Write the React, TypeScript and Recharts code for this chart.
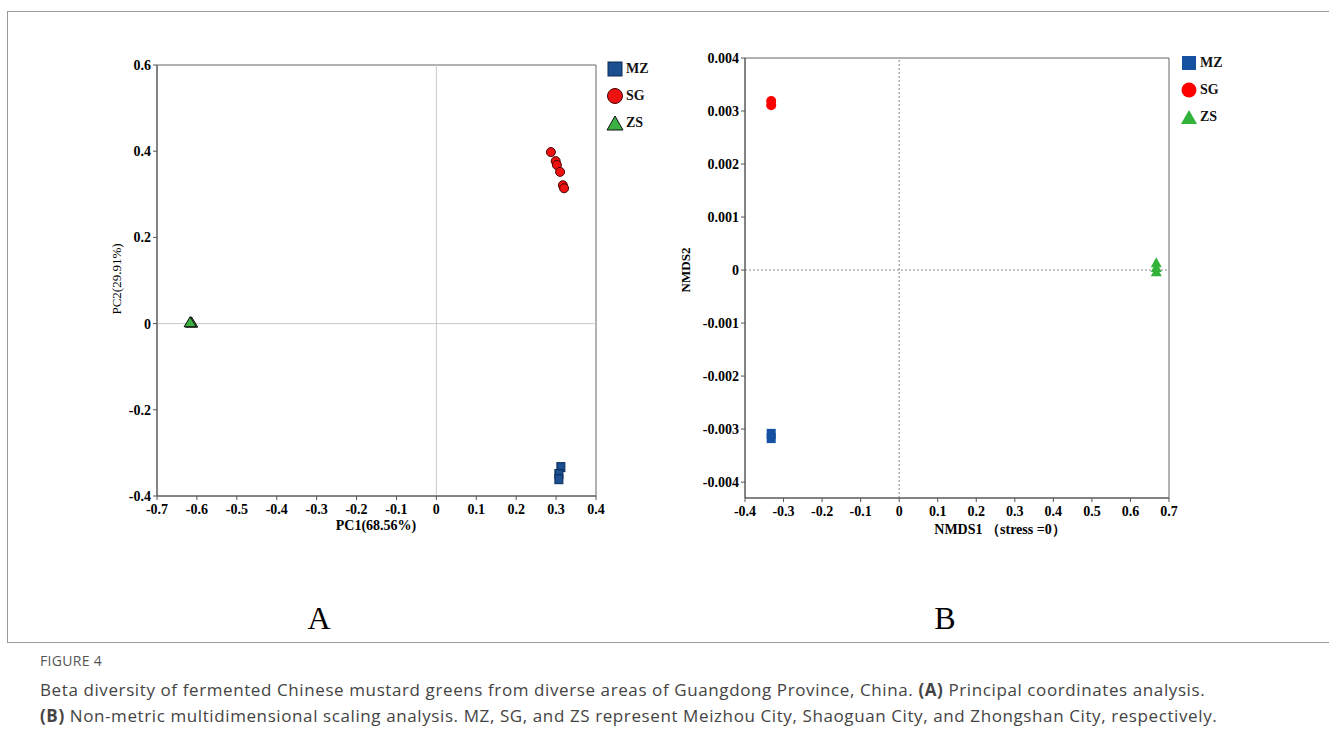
import React from 'react';
import { ScatterChart, Scatter, XAxis, YAxis, ReferenceLine, ReferenceArea } from 'recharts';

// Panel A (PCoA)
const xTicksA = [-0.7, -0.6, -0.5, -0.4, -0.3, -0.2, -0.1, 0, 0.1, 0.2, 0.3, 0.4];
const yTicksA = [-0.4, -0.2, 0, 0.2, 0.4, 0.6];
const mzA = [
  { x: 0.312, y: -0.333 },
  { x: 0.307, y: -0.349 },
  { x: 0.307, y: -0.361 },
];
const sgA = [
  { x: 0.287, y: 0.398 },
  { x: 0.299, y: 0.377 },
  { x: 0.302, y: 0.368 },
  { x: 0.31, y: 0.352 },
  { x: 0.317, y: 0.321 },
  { x: 0.32, y: 0.314 },
];
const zsA = [
  { x: -0.615, y: 0.002 },
  { x: -0.613, y: 0.001 },
  { x: -0.617, y: 0.002 },
];

// Panel B (NMDS)
const xTicksB = [-0.4, -0.3, -0.2, -0.1, 0, 0.1, 0.2, 0.3, 0.4, 0.5, 0.6, 0.7];
const yTicksB = [-0.004, -0.003, -0.002, -0.001, 0, 0.001, 0.002, 0.003, 0.004];
const mzB = [
  { x: -0.332, y: -0.00309 },
  { x: -0.332, y: -0.00317 },
];
const sgB = [
  { x: -0.332, y: 0.00319 },
  { x: -0.332, y: 0.00311 },
];
const zsB = [
  { x: 0.667, y: 0.00013 },
  { x: 0.667, y: 0.00004 },
  { x: 0.667, y: -0.00004 },
];

const groups = ['MZ', 'SG', 'ZS'];

const serif = '"Liberation Serif", "Times New Roman", serif';
const tickStyle = { fontFamily: serif, fontWeight: 700, fontSize: 14, fill: '#000' };
const fmt = (v: number) => (v === 0 ? '0' : String(v));

const SquareA = (p: any) => (
  <rect x={p.cx - 4} y={p.cy - 4.5} width={8} height={9} fill="#1b4f91" stroke="#0b2a55" strokeWidth={1} />
);
const CircleA = (p: any) => <circle cx={p.cx} cy={p.cy} r={4.5} fill="#ee1111" stroke="#4a0000" strokeWidth={1} />;
const TriA = (p: any) => (
  <polygon
    points={`${p.cx - 6},${p.cy + 4} ${p.cx + 6},${p.cy + 4} ${p.cx},${p.cy - 6}`}
    fill="#3cb043"
    stroke="#111"
    strokeWidth={1}
  />
);
const SquareB = (p: any) => <rect x={p.cx - 4.5} y={p.cy - 5} width={9} height={10} fill="#1650a0" />;
const CircleB = (p: any) => <circle cx={p.cx} cy={p.cy} r={5} fill="#ff0000" />;
const TriB = (p: any) => (
  <polygon points={`${p.cx - 5.5},${p.cy + 4} ${p.cx + 5.5},${p.cy + 4} ${p.cx},${p.cy - 6}`} fill="#33b23a" />
);

const LegendBox = ({ left, top, outlined }: { left: number; top: number; outlined: boolean }) => {
  const colors = ['#1b4f91', '#ee1111', '#3cb043'];
  const stroke = outlined ? '#111' : 'none';
  return (
    <div style={{ position: 'absolute', left, top, fontFamily: serif, fontWeight: 700, fontSize: 14, color: '#111' }}>
      {groups.map((g, i) => (
        <div key={g} style={{ display: 'flex', alignItems: 'center', height: 27 }}>
          <svg width={18} height={18} style={{ marginRight: 2 }}>
            {i === 0 && <rect x={2} y={2} width={14} height={14} fill={outlined ? colors[0] : '#1650a0'} stroke={outlined ? '#0b2a55' : 'none'} />}
            {i === 1 && <circle cx={9} cy={9} r={7.5} fill={outlined ? colors[1] : '#ff0000'} stroke={outlined ? '#4a0000' : 'none'} />}
            {i === 2 && <polygon points="1,16 17,16 9,2" fill={outlined ? colors[2] : '#33b23a'} stroke={stroke} />}
          </svg>
          <span>{g}</span>
        </div>
      ))}
    </div>
  );
};

const axisCommon = {
  type: 'number' as const,
  interval: 0 as const,
  tick: tickStyle,
  tickFormatter: fmt,
  tickSize: 4,
  axisLine: { stroke: '#555' },
  tickLine: { stroke: '#555' },
  allowDataOverflow: true,
};

export default function App() {
  return (
    <div style={{ position: 'absolute', left: 0, top: 0, width: 1329, height: 746, background: '#fff', overflow: 'hidden' }}>
      <div style={{ position: 'absolute', left: 7, top: 11, width: 1340, height: 630, border: '1px solid #9a9a9a' }} />

      {/* Panel A */}
      <div style={{ position: 'absolute', left: 0, top: 0 }}>
        <ScatterChart width={700} height={560} margin={{ left: 156, top: 65, right: 104, bottom: 63 }}>
          <XAxis {...axisCommon} dataKey="x" domain={[-0.7, 0.4]} ticks={xTicksA} height={1} tickMargin={4} />
          <YAxis {...axisCommon} dataKey="y" domain={[-0.4, 0.6]} ticks={yTicksA} width={1} tickMargin={2} />
          <ReferenceArea x1={-0.7} x2={0.4} y1={-0.4} y2={0.6} fill="none" stroke="#666" strokeWidth={1} />
          <ReferenceLine x={0} stroke="#c8c8c8" />
          <ReferenceLine y={0} stroke="#c8c8c8" />
          <Scatter name="ZS" data={zsA} shape={TriA} isAnimationActive={false} />
          <Scatter name="SG" data={sgA} shape={CircleA} isAnimationActive={false} />
          <Scatter name="MZ" data={mzA} shape={SquareA} isAnimationActive={false} />
        </ScatterChart>
      </div>
      <LegendBox left={606} top={55} outlined={true} />
      <div style={{ position: 'absolute', left: 276, top: 518, width: 200, textAlign: 'center', fontFamily: serif, fontWeight: 700, fontSize: 14 }}>
        PC1(68.56%)
      </div>
      <div
        style={{
          position: 'absolute',
          left: 67,
          top: 271,
          width: 100,
          textAlign: 'center',
          fontFamily: serif,
          fontSize: 13,
          transform: 'rotate(-90deg)',
        }}
      >
        PC2(29.91%)
      </div>
      <div style={{ position: 'absolute', left: 279, top: 600, width: 80, textAlign: 'center', fontFamily: serif, fontSize: 32 }}>A</div>

      {/* Panel B */}
      <div style={{ position: 'absolute', left: 640, top: 0 }}>
        <ScatterChart width={600} height={560} margin={{ left: 104, top: 58, right: 71, bottom: 61 }}>
          <XAxis {...axisCommon} dataKey="x" domain={[-0.4, 0.7]} ticks={xTicksB} height={1} tickMargin={4} />
          <YAxis {...axisCommon} dataKey="y" domain={[-0.0043, 0.004]} ticks={yTicksB} width={1} tickMargin={2} />
          <ReferenceArea x1={-0.4} x2={0.7} y1={-0.0043} y2={0.004} fill="none" stroke="#666" strokeWidth={1} />
          <ReferenceLine x={0} stroke="#888" strokeDasharray="2 2" />
          <ReferenceLine y={0} stroke="#888" strokeDasharray="2 2" />
          <Scatter name="ZS" data={zsB} shape={TriB} isAnimationActive={false} />
          <Scatter name="SG" data={sgB} shape={CircleB} isAnimationActive={false} />
          <Scatter name="MZ" data={mzB} shape={SquareB} isAnimationActive={false} />
        </ScatterChart>
      </div>
      <LegendBox left={1180} top={49} outlined={false} />
      <div style={{ position: 'absolute', left: 880, top: 521, width: 240, textAlign: 'center', fontFamily: serif, fontWeight: 700, fontSize: 14 }}>
        NMDS1 （stress =0）
      </div>
      <div
        style={{
          position: 'absolute',
          left: 636,
          top: 262,
          width: 100,
          textAlign: 'center',
          fontFamily: serif,
          fontWeight: 700,
          fontSize: 13,
          transform: 'rotate(-90deg)',
        }}
      >
        NMDS2
      </div>
      <div style={{ position: 'absolute', left: 905, top: 600, width: 80, textAlign: 'center', fontFamily: serif, fontSize: 32 }}>B</div>

      {/* Caption */}
      <div
        style={{
          position: 'absolute',
          left: 40,
          top: 651,
          fontFamily: '"Open Sans", "Noto Sans", sans-serif',
          fontSize: 14,
          color: '#555',
          letterSpacing: 0.3,
        }}
      >
        FIGURE 4
      </div>
      <div
        style={{
          position: 'absolute',
          left: 40,
          top: 677,
          width: 1285,
          fontFamily: '"Open Sans", "Noto Sans", sans-serif',
          fontSize: 17,
          letterSpacing: 0.6,
          lineHeight: '26px',
          color: '#444',
          whiteSpace: 'nowrap',
        }}
      >
        <div>
          Beta diversity of fermented Chinese mustard greens from diverse areas of Guangdong Province, China. <b>(A)</b> Principal coordinates analysis.
        </div>
        <div>
          <b>(B)</b> Non-metric multidimensional scaling analysis. MZ, SG, and ZS represent Meizhou City, Shaoguan City, and Zhongshan City, respectively.
        </div>
      </div>
    </div>
  );
}
